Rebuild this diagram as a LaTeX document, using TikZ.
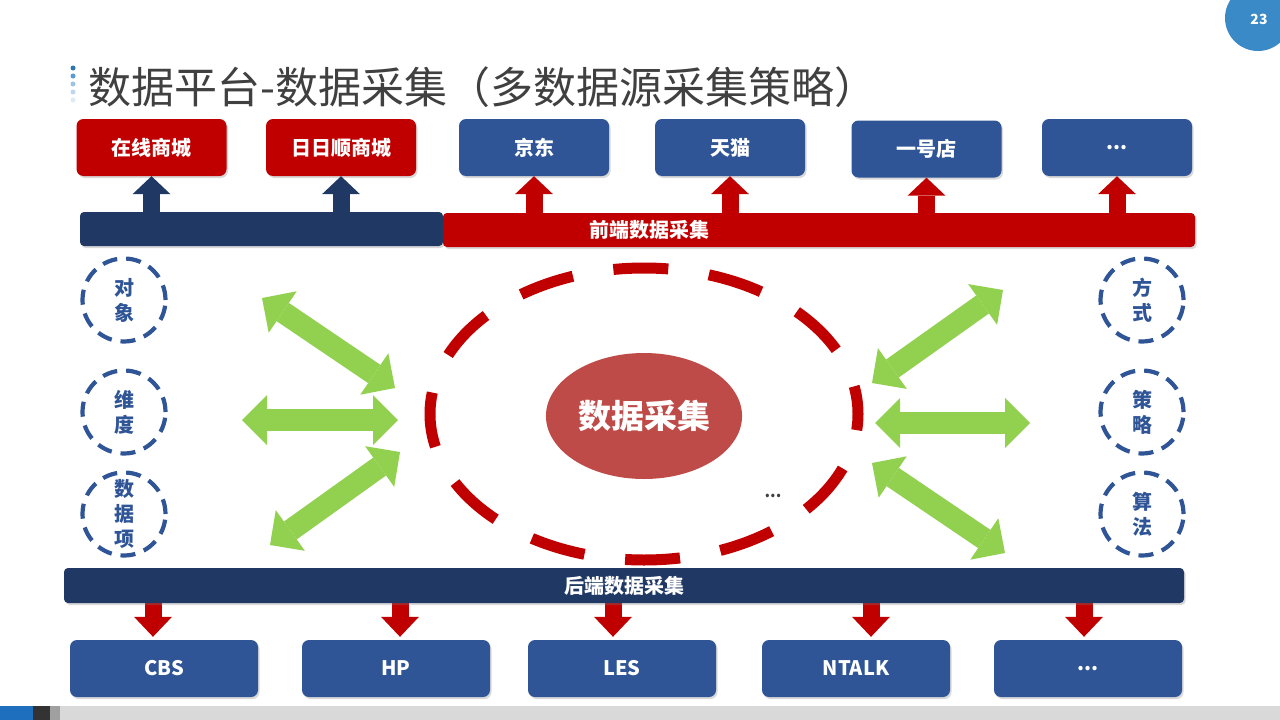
\documentclass[tikz,border=0pt]{standalone}
\usepackage{fontspec}
\setmainfont{Noto Sans CJK SC}
\usepackage{tikz}
\usetikzlibrary{arrows.meta,positioning,calc,shapes.geometric,shadows}
\definecolor{shopred}{HTML}{C00000}
\definecolor{shopblue}{HTML}{2F5597}
\definecolor{barnavy}{HTML}{203864}
\definecolor{leafgreen}{HTML}{92D050}
\definecolor{corefill}{HTML}{BE4B48}
\definecolor{titlegrey}{HTML}{404040}
\definecolor{pageblue}{HTML}{3A8AC8}
\definecolor{footblue}{HTML}{1F6FBF}
\definecolor{footdark}{HTML}{333333}
\definecolor{footmid}{HTML}{A0A0A0}
\definecolor{footgrey}{HTML}{D9D9D9}
\definecolor{dotone}{HTML}{2E75B6}
\definecolor{dottwo}{HTML}{5B9BD5}
\definecolor{dotthree}{HTML}{9DC3E6}
\definecolor{dotfour}{HTML}{BDD7EE}
\definecolor{dotfive}{HTML}{DEEBF7}

\begin{document}
\begin{tikzpicture}[
  x=1pt, y=-1pt,
  font=\bfseries\fontsize{20}{24}\selectfont,
  shop/.style={rectangle, rounded corners=7pt, fill=#1, text=white,
               minimum width=150pt, minimum height=57pt,
               drop shadow={opacity=0.3, shadow xshift=1.5pt, shadow yshift=-2pt}},
  src/.style={rectangle, rounded corners=7pt, fill=shopblue, text=white,
              minimum width=188pt, minimum height=57pt,
              drop shadow={opacity=0.3, shadow xshift=1.5pt, shadow yshift=-2pt}},
  railbar/.style={rectangle, rounded corners=4pt, fill=#1, text=white,
                  minimum height=34pt, inner sep=0pt,
                  drop shadow={opacity=0.3, shadow xshift=1.5pt, shadow yshift=-2pt}},
  aspect/.style={circle, draw=shopblue, line width=4.2pt, dash pattern=on 15pt off 9pt,
                 minimum size=83pt, inner sep=0pt, text=shopblue, align=center,
                 font=\bfseries\fontsize{20}{25}\selectfont},
  upflow/.style={line width=17pt, draw=#1, -{Triangle[width=38pt, length=18pt, line width=0pt]}},
  downflow/.style={line width=17pt, draw=shopred, -{Triangle[width=38pt, length=20pt, line width=0pt]}},
  gflow/.style={line width=22pt, draw=leafgreen,
                {Triangle[width=50pt, length=25pt, line width=0pt]}-{Triangle[width=50pt, length=25pt, line width=0pt]}},
]
\useasboundingbox (0,0) rectangle (1280,720);

% --- Page number and footer ---
\fill[pageblue] (1258,18) circle (33pt);
\node[text=white, font=\bfseries\fontsize{14}{16}\selectfont] (pagenum) at (1259,19) {23};
\fill[footgrey] (0,706) rectangle (1280,720);
\fill[footblue] (0,706) rectangle (33,720);
\fill[footdark] (33,706) rectangle (50,720);
\fill[footmid]  (50,706) rectangle (60,720);

% --- Title ---
\fill[dotone]   (73,68)  circle (2.5pt);
\fill[dottwo]   (73,76)  circle (2.5pt);
\fill[dotthree] (73,84)  circle (2.5pt);
\fill[dotfour]  (73,92)  circle (2.5pt);
\fill[dotfive]  (73,100) circle (2.5pt);
\node[anchor=west, text=titlegrey, font=\fontsize{43}{47}\selectfont, inner sep=0pt] (title) at (88,87)
  {数据平台-数据采集（多数据源采集策略）};

% --- Front-end targets (top row) ---
\node[shop=shopred]  (online)  at (151.5,147.5) {在线商城};
\node[shop=shopred]  (rrs)     at (341,147.5)   {日日顺商城};
\node[shop=shopblue] (jd)      at (534,147.5)   {京东};
\node[shop=shopblue] (tmall)   at (730,147.5)   {天猫};
\node[shop=shopblue] (yhd)     at (926.5,149)   {一号店};
\node[shop=shopblue] (moretop) at (1117,147.5)  {...};

% --- Front-end bars ---
\node[railbar=barnavy, minimum width=363pt] (ownbar)   at (261.5,229) {};
\node[railbar=shopred, minimum width=752pt] (frontbar) at (819,230)   {};
\node[text=white] (frontlbl) at (649,230) {前端数据采集};

% --- Up arrows ---
\draw[upflow=barnavy] (ownbar.north -| online.south) -- (online.south);
\draw[upflow=barnavy] (ownbar.north -| rrs.south) -- (rrs.south);
\draw[upflow=shopred] (frontbar.north -| jd.south) -- (jd.south);
\draw[upflow=shopred] (frontbar.north -| tmall.south) -- (tmall.south);
\draw[upflow=shopred] (frontbar.north -| yhd.south) -- (yhd.south);
\draw[upflow=shopred] (frontbar.north -| moretop.south) -- (moretop.south);

% --- Aspects (dashed circles) ---
\node[aspect] (obj)   at (124,300)  {对\\象};
\node[aspect] (dim)   at (124,412)  {维\\度};
\node[aspect] (item)  at (124,514)  {数\\据\\项};
\node[aspect] (mode)  at (1142,300) {方\\式};
\node[aspect] (strat) at (1142,412) {策\\略};
\node[aspect] (algo)  at (1142,514) {算\\法};

% --- Core ---
\node[ellipse, draw=shopred, line width=11pt, dash pattern=on 55pt off 41pt, dash phase=27pt,
      minimum width=428pt, minimum height=292pt] (loop) at (644,414) {};
\node[ellipse, fill=corefill, text=white, minimum width=188pt, minimum height=126pt,
      font=\bfseries\fontsize{33}{36}\selectfont] (core) at (644,416) {数据采集};
\node[text=titlegrey, font=\bfseries\fontsize{16}{18}\selectfont] (etc) at (773,496) {...};

% --- Green exchange arrows ---
\coordinate (lt1) at (262,298);  \coordinate (lt2) at (395,388);
\coordinate (lm1) at (242,420);  \coordinate (lm2) at (398,420);
\coordinate (lb1) at (270,545);  \coordinate (lb2) at (400,452);
\coordinate (rt1) at (872,383);  \coordinate (rt2) at (1003,290);
\coordinate (rm1) at (875,423);  \coordinate (rm2) at (1030,423);
\coordinate (rb1) at (872,463);  \coordinate (rb2) at (1005,553);
\draw[gflow] (lt1) -- (lt2);
\draw[gflow] (lm1) -- (lm2);
\draw[gflow] (lb1) -- (lb2);
\draw[gflow] (rt1) -- (rt2);
\draw[gflow] (rm1) -- (rm2);
\draw[gflow] (rb1) -- (rb2);

% --- Back-end sources (bottom row) ---
\node[src] (cbs)      at (164,668.5)  {CBS};
\node[src] (hp)       at (396,668.5)  {HP};
\node[src] (les)      at (622,668.5)  {LES};
\node[src] (ntalk)    at (856,668.5)  {NTALK};
\node[src] (moreback) at (1088,668.5) {...};

% --- Down arrows (under the bar) ---
\draw[downflow] ($(cbs.north)+(-11,-50)$)     -- ($(cbs.north)+(-11,-3)$);
\draw[downflow] ($(hp.north)+(4,-50)$)        -- ($(hp.north)+(4,-3)$);
\draw[downflow] ($(les.north)+(-9,-50)$)      -- ($(les.north)+(-9,-3)$);
\draw[downflow] ($(ntalk.north)+(15,-50)$)    -- ($(ntalk.north)+(15,-3)$);
\draw[downflow] ($(moreback.north)+(-4,-50)$) -- ($(moreback.north)+(-4,-3)$);

% --- Back-end bar ---
\node[railbar=barnavy, minimum width=1120pt, minimum height=35pt] (backbar) at (624,585.5) {后端数据采集};

\end{tikzpicture}
\end{document}
